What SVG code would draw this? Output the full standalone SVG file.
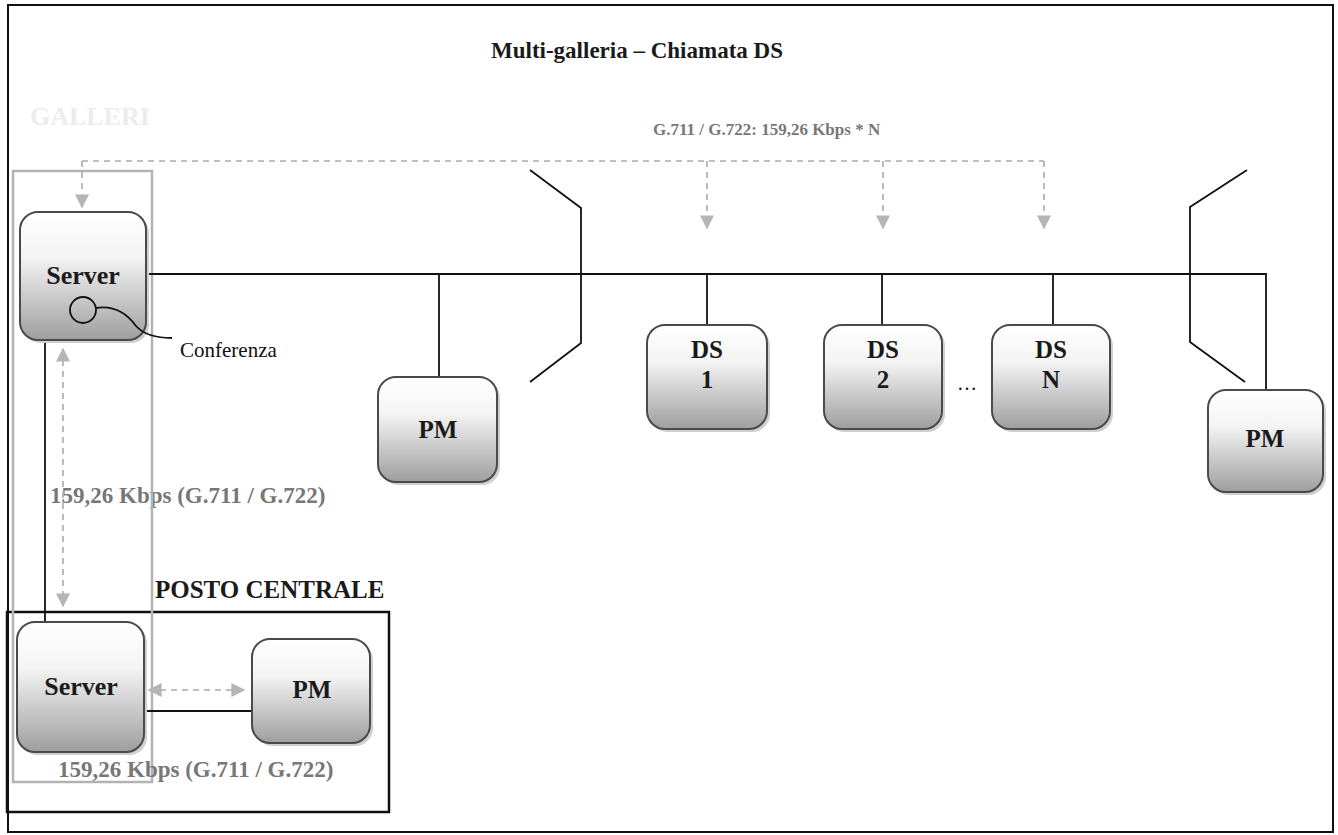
<svg xmlns="http://www.w3.org/2000/svg" width="1338" height="835" viewBox="0 0 1338 835">
<style>
.node{fill:url(#g);stroke:#4a4a4a;stroke-width:2}
.shadow{fill:#cfcfcf}
.lbl{font-family:"Liberation Serif",serif;font-weight:bold;fill:#1a1a1a;text-anchor:middle}
.grey{font-family:"Liberation Serif",serif;font-weight:bold;fill:#777}
.wire{stroke:#111;stroke-width:1.8;fill:none}
.dash{stroke:#aaa;stroke-width:1.6;fill:none;stroke-dasharray:6 5}
</style>
<defs>
<linearGradient id="g" x1="0" y1="0" x2="0" y2="1">
<stop offset="0" stop-color="#ffffff"/>
<stop offset="0.35" stop-color="#f4f4f4"/>
<stop offset="1" stop-color="#9e9e9e"/>
</linearGradient>
<marker id="ah" viewBox="0 0 10 10" refX="9" refY="5" markerWidth="14" markerHeight="14" markerUnits="userSpaceOnUse" orient="auto-start-reverse">
<path d="M0,0 L10,5 L0,10 Z" fill="#b5b5b5"/>
</marker>
</defs>
<rect width="1338" height="835" fill="#fff"/>
<rect x="8" y="5" width="1325" height="827" fill="none" stroke="#111" stroke-width="2"/>
<text x="637" y="58" class="lbl" font-size="23">Multi-galleria – Chiamata DS</text>
<text x="30" y="125" font-family="Liberation Serif,serif" font-weight="bold" font-size="26" fill="#ececec">GALLERI</text>
<text x="653" y="135" class="grey" font-size="17">G.711 / G.722: 159,26 Kbps * N</text>
<text x="50" y="503" class="grey" font-size="23">159,26 Kbps (G.711 / G.722)</text>
<text x="155" y="598" class="lbl" font-size="25" style="text-anchor:start">POSTO CENTRALE</text>
<rect x="7" y="612" width="382" height="200" fill="none" stroke="#111" stroke-width="2.5"/>
<rect x="13" y="171" width="139" height="611" fill="none" stroke="#b3b3b3" stroke-width="2.5"/>
<text x="58" y="777" class="grey" font-size="23">159,26 Kbps (G.711 / G.722)</text>
<text x="180" y="357" font-family="Liberation Serif,serif" font-size="21" fill="#111">Conferenza</text>
<text x="967" y="390" font-family="Liberation Serif,serif" font-size="20" fill="#111" text-anchor="middle">…</text>

<g id="connectors">
<path class="wire" d="M146,274 H1266 V390"/>
<path class="wire" d="M439,274 V377"/>
<path class="wire" d="M707,274 V325"/>
<path class="wire" d="M882,274 V325"/>
<path class="wire" d="M1053,274 V325"/>
<path class="wire" d="M530,170 L581,208 V343 L530,382"/>
<path class="wire" d="M1247,170 L1190,207 V342 L1245,382"/>
<path class="wire" d="M45,340 V622"/>
<path class="wire" d="M144,711 H252"/>
<path class="dash" d="M82,161 H1044"/>
<path class="dash" d="M82,161 V207" marker-end="url(#ah)"/>
<path class="dash" d="M707,161 V228" marker-end="url(#ah)"/>
<path class="dash" d="M883,161 V228" marker-end="url(#ah)"/>
<path class="dash" d="M1044,161 V228" marker-end="url(#ah)"/>
<path class="dash" d="M63,349 V606" marker-start="url(#ah)" marker-end="url(#ah)"/>
<path class="dash" d="M149,690 H244" marker-start="url(#ah)" marker-end="url(#ah)"/>
</g>

<g id="server-galleria">
<rect class="shadow" x="23" y="215" width="126" height="128" rx="18"/>
<rect class="node" x="20" y="212" width="126" height="128" rx="18"/>
<text x="83" y="284" class="lbl" font-size="26">Server</text>
<circle cx="83" cy="310" r="13" fill="none" stroke="#111" stroke-width="1.8"/>
<path class="wire" d="M96,308 C115,305 128,315 136,326 C145,336 158,338 172,338"/>
</g>
<g id="pm-1">
<rect class="shadow" x="381" y="380" width="119" height="105" rx="18"/>
<rect class="node" x="378" y="377" width="119" height="105" rx="18"/>
<text x="438" y="438" class="lbl" font-size="25">PM</text>
</g>
<g id="ds-1">
<rect class="shadow" x="650" y="328" width="120" height="104" rx="18"/>
<rect class="node" x="647" y="325" width="120" height="104" rx="18"/>
<text x="707" y="358" class="lbl" font-size="25">DS</text>
<text x="707" y="388" class="lbl" font-size="25">1</text>
</g>
<g id="ds-2">
<rect class="shadow" x="827" y="328" width="118" height="104" rx="18"/>
<rect class="node" x="824" y="325" width="118" height="104" rx="18"/>
<text x="883" y="358" class="lbl" font-size="25">DS</text>
<text x="883" y="388" class="lbl" font-size="25">2</text>
</g>
<g id="ds-n">
<rect class="shadow" x="995" y="328" width="118" height="104" rx="18"/>
<rect class="node" x="992" y="325" width="118" height="104" rx="18"/>
<text x="1051" y="358" class="lbl" font-size="25">DS</text>
<text x="1051" y="388" class="lbl" font-size="25">N</text>
</g>
<g id="pm-2">
<rect class="shadow" x="1211" y="393" width="115" height="102" rx="18"/>
<rect class="node" x="1208" y="390" width="115" height="102" rx="18"/>
<text x="1265" y="447" class="lbl" font-size="25">PM</text>
</g>
<g id="server-centrale">
<rect class="shadow" x="20" y="625" width="127" height="130" rx="18"/>
<rect class="node" x="17" y="622" width="127" height="130" rx="18"/>
<text x="81" y="695" class="lbl" font-size="26">Server</text>
</g>
<g id="pm-centrale">
<rect class="shadow" x="255" y="642" width="118" height="104" rx="18"/>
<rect class="node" x="252" y="639" width="118" height="104" rx="18"/>
<text x="312" y="698" class="lbl" font-size="25">PM</text>
</g>
</svg>
